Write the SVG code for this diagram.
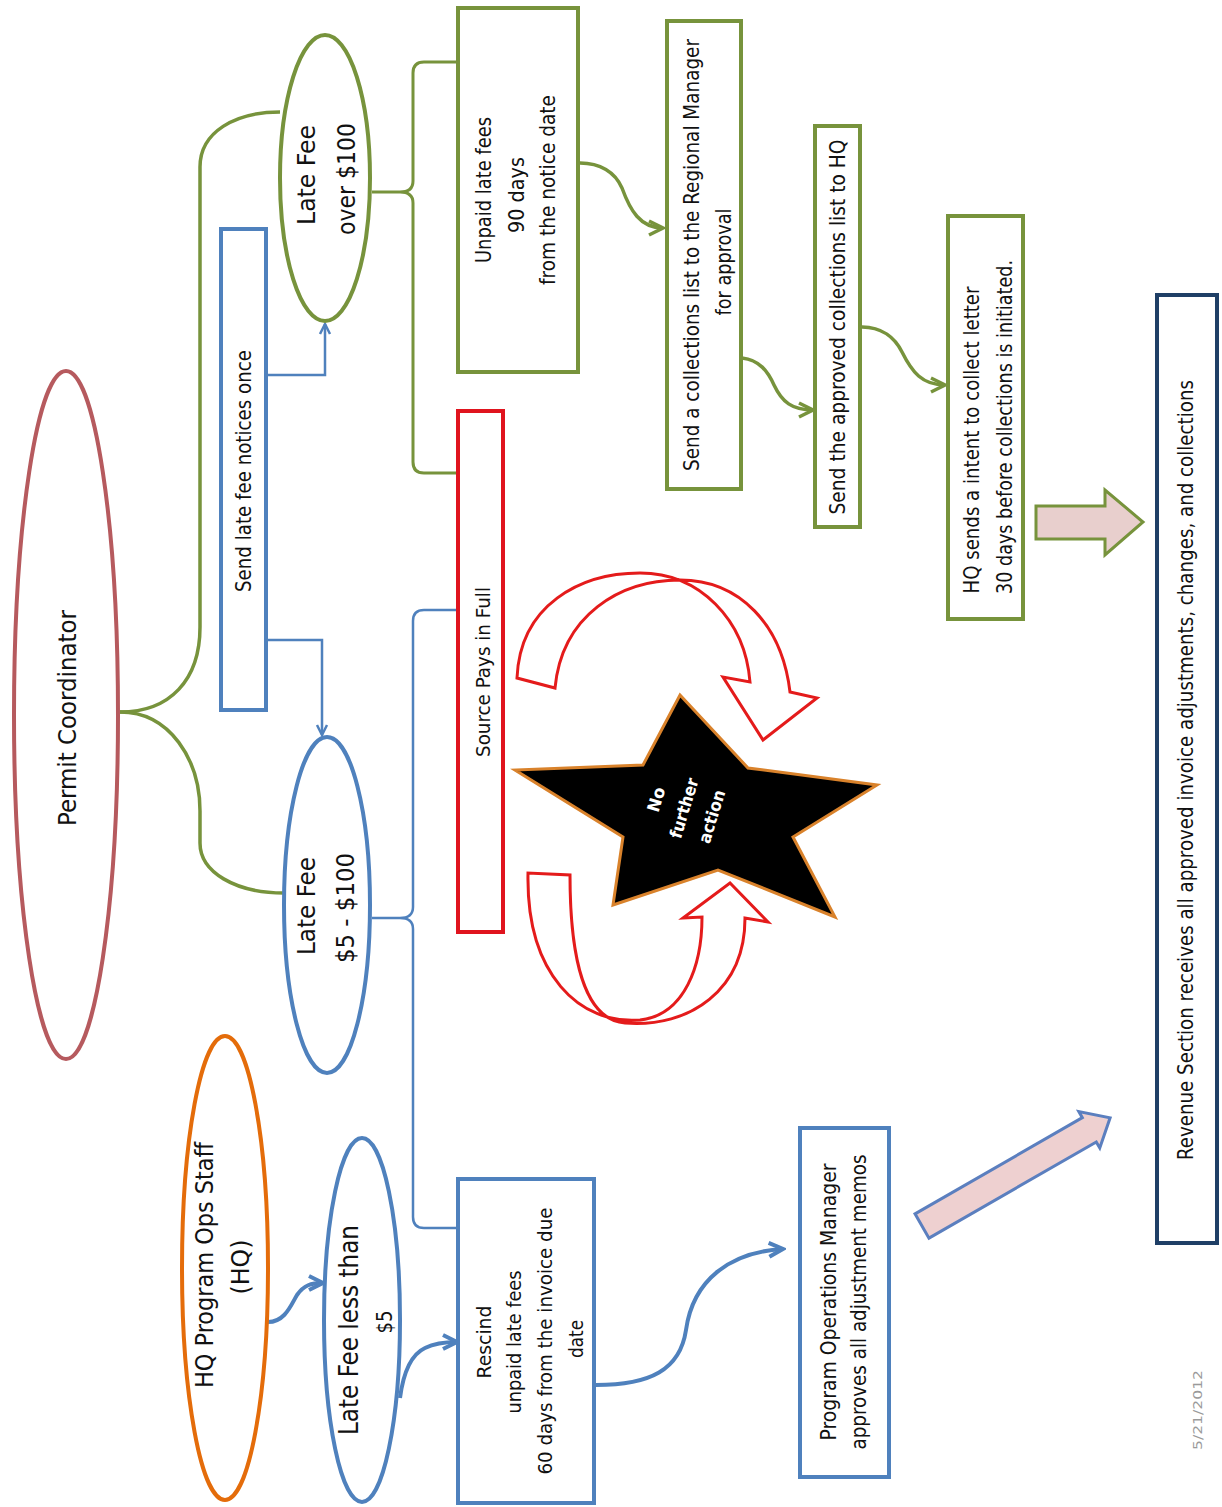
<svg xmlns="http://www.w3.org/2000/svg" width="1222" height="1507" viewBox="0 0 1222 1507">
<defs>
<style>
.t{font-family:"Liberation Sans Narrow","DejaVu Sans Condensed","Liberation Sans",sans-serif;fill:#111;text-anchor:middle;dominant-baseline:central;}
.nf{fill:#fff;stroke-width:4;}
.g{stroke:#77933c;}
.b{stroke:#4f81bd;}
.conG{fill:none;stroke:#77933c;stroke-width:3.5;}
.conB{fill:none;stroke:#4f81bd;stroke-width:2.5;}
.conBt{fill:none;stroke:#4f81bd;stroke-width:4;}
.red{fill:#fff;stroke:#e41b1b;stroke-width:3;stroke-linejoin:miter;}
</style>
<marker id="ag" markerUnits="userSpaceOnUse" markerWidth="18" markerHeight="18" viewBox="0 0 18 18" refX="16" refY="9" orient="auto"><path d="M2,2 L16,9 L2,16" fill="none" stroke="#77933c" stroke-width="3.5"/></marker>
<marker id="ab" markerUnits="userSpaceOnUse" markerWidth="14" markerHeight="14" viewBox="0 0 14 14" refX="12" refY="7" orient="auto"><path d="M2,2 L12,7 L2,12" fill="none" stroke="#4f81bd" stroke-width="2.5"/></marker>
<marker id="abt" markerUnits="userSpaceOnUse" markerWidth="20" markerHeight="20" viewBox="0 0 20 20" refX="17" refY="10" orient="auto"><path d="M3,3 L17,10 L3,17" fill="none" stroke="#4f81bd" stroke-width="4"/></marker>
</defs>
<rect width="1222" height="1507" fill="#fff"/>

<g id="connectors">
<path class="conG" d="M120,712 C170,712 200,680 200,627 L200,167 C200,132 235,112 280,112"/>
<path class="conG" d="M120,712 C170,712 200,760 200,811 L200,843 C200,872 235,893 284,893"/>
<path class="conB" d="M266,375 L325,375 L325,324" marker-end="url(#ab)"/>
<path class="conB" d="M266,640 L322,640 L322,735" marker-end="url(#ab)"/>
<path fill="none" stroke="#77933c" stroke-width="3" d="M458,62 L424,62 Q413,62 413,73 L413,181 Q413,192 400,192 L372,192 M400,192 Q413,192 413,203 L413,462 Q413,473 424,473 L458,473"/>
<path fill="none" stroke="#4f81bd" stroke-width="2.5" d="M457,610 L424,610 Q413,610 413,621 L413,907 Q413,918 400,918 L372,918 M400,918 Q413,918 413,929 L413,1217 Q413,1228 424,1228 L457,1228"/>
<path class="conBt" d="M268,1322 C285,1322 291,1305 297,1295 C304,1285 311,1283 323,1283" marker-end="url(#abt)"/>
<path class="conBt" d="M400,1398 C403,1375 410,1355 425,1348 C435,1343 445,1342 457,1342" marker-end="url(#abt)"/>
<path class="conG" d="M580,163 C600,163 615,172 622,188 C630,210 640,228 663,228" marker-end="url(#ag)"/>
<path class="conG" d="M742,358 C760,360 768,372 774,385 C782,402 792,410 813,410" marker-end="url(#ag)"/>
<path class="conG" d="M862,327 C882,327 895,338 902,352 C912,372 922,385 945,385" marker-end="url(#ag)"/>
<path class="conBt" d="M596,1385 C650,1385 680,1370 686,1330 C693,1280 730,1252 783,1249" marker-end="url(#abt)"/>
<polygon points="1036,506 1105,506 1105,490 1143,522 1105,555 1105,539 1036,539" fill="#e8cfcd" stroke="#77933c" stroke-width="3"/>
<polygon transform="translate(922,1226) rotate(-29.9)" points="0,-14 193,-14 193,-21 217,0 193,21 193,14 0,14" fill="#eed0d0" stroke="#5b7fbf" stroke-width="3"/>
<path class="red" d="M517,678 C520,605 580,573 640,573 C700,573 745,620 750,682 L723,677 L763,740 L817,698 L790,692 C782,625 740,580 680,580 C620,580 562,615 555,688 Z"/>
<path class="red" d="M528,873 C526,975 580,1025 640,1020 C685,1015 702,965 702,917 L683,918 L730,883 L768,922 L745,918 C745,990 690,1028 625,1023 C585,1020 570,960 570,875 Z"/>
</g>

<g id="permit-coordinator">
<ellipse cx="66" cy="715" rx="52" ry="344" fill="#fff" stroke="#b65a5e" stroke-width="4"/>
<text class="t" font-size="24" transform="translate(68,718) rotate(-90)" textLength="216" lengthAdjust="spacingAndGlyphs">Permit Coordinator</text>
</g>

<g id="send-notices">
<rect class="nf b" x="221" y="229" width="45" height="481"/>
<text class="t" font-size="21" transform="translate(244,471) rotate(-90)" textLength="242" lengthAdjust="spacingAndGlyphs">Send late fee notices once</text>
</g>

<g id="late-fee-over-100">
<ellipse class="nf g" cx="325" cy="178" rx="45" ry="143"/>
<text class="t" font-size="25" transform="translate(306,175) rotate(-90)" textLength="100" lengthAdjust="spacingAndGlyphs">Late Fee</text>
<text class="t" font-size="25" transform="translate(346,179) rotate(-90)" textLength="112" lengthAdjust="spacingAndGlyphs">over $100</text>
</g>

<g id="late-fee-5-100">
<ellipse class="nf b" cx="327" cy="905" rx="43" ry="168"/>
<text class="t" font-size="25" transform="translate(306,906) rotate(-90)" textLength="98" lengthAdjust="spacingAndGlyphs">Late Fee</text>
<text class="t" font-size="25" transform="translate(345,908) rotate(-90)" textLength="110" lengthAdjust="spacingAndGlyphs">$5 - $100</text>
</g>

<g id="hq-staff">
<ellipse fill="#fff" stroke="#e46c0a" stroke-width="4" cx="225" cy="1268" rx="43" ry="232"/>
<text class="t" font-size="25" transform="translate(204,1265) rotate(-90)" textLength="246" lengthAdjust="spacingAndGlyphs">HQ Program Ops  Staff</text>
<text class="t" font-size="25" transform="translate(240,1267) rotate(-90)" textLength="55" lengthAdjust="spacingAndGlyphs">(HQ)</text>
</g>

<g id="late-fee-less-5">
<ellipse class="nf b" cx="362" cy="1320" rx="38" ry="182"/>
<text class="t" font-size="27" transform="translate(348,1330) rotate(-90)" textLength="210" lengthAdjust="spacingAndGlyphs">Late Fee less than</text>
<text class="t" font-size="22" transform="translate(384,1322) rotate(-90)" textLength="23" lengthAdjust="spacingAndGlyphs">$5</text>
</g>

<g id="unpaid">
<rect class="nf g" x="458" y="8" width="120" height="364"/>
<text class="t" font-size="21" transform="translate(484,190) rotate(-90)" textLength="146" lengthAdjust="spacingAndGlyphs">Unpaid late fees</text>
<text class="t" font-size="21" transform="translate(517,195) rotate(-90)" textLength="76" lengthAdjust="spacingAndGlyphs">90 days</text>
<text class="t" font-size="21" transform="translate(548,190) rotate(-90)" textLength="190" lengthAdjust="spacingAndGlyphs">from the notice date</text>
</g>

<g id="source-pays">
<rect class="nf" stroke="#e0141e" x="458" y="411" width="45" height="521"/>
<text class="t" font-size="19" transform="translate(483,672) rotate(-90)" textLength="170" lengthAdjust="spacingAndGlyphs">Source Pays in Full</text>
</g>

<g id="send-collections-list">
<rect class="nf g" x="667" y="21" width="74" height="468"/>
<text class="t" font-size="21" transform="translate(692,255) rotate(-90)" textLength="432" lengthAdjust="spacingAndGlyphs">Send a collections  list to the Regional Manager</text>
<text class="t" font-size="21" transform="translate(724,262) rotate(-90)" textLength="107" lengthAdjust="spacingAndGlyphs">for approval</text>
</g>

<g id="send-approved">
<rect class="nf g" x="815" y="126" width="45" height="401"/>
<text class="t" font-size="21" transform="translate(838,327) rotate(-90)" textLength="375" lengthAdjust="spacingAndGlyphs">Send the approved  collections  list to HQ</text>
</g>

<g id="hq-sends">
<rect class="nf g" x="948" y="216" width="75" height="403"/>
<text class="t" font-size="21" transform="translate(972,440) rotate(-90)" textLength="307" lengthAdjust="spacingAndGlyphs">HQ sends a intent to collect  letter</text>
<text class="t" font-size="21" transform="translate(1005,427) rotate(-90)" textLength="334" lengthAdjust="spacingAndGlyphs">30 days before collections is initiated.</text>
</g>

<g id="rescind">
<rect class="nf b" x="458" y="1179" width="136" height="324"/>
<text class="t" font-size="20" transform="translate(484,1342) rotate(-90)" textLength="73" lengthAdjust="spacingAndGlyphs">Rescind</text>
<text class="t" font-size="20" transform="translate(514,1342) rotate(-90)" textLength="143" lengthAdjust="spacingAndGlyphs">unpaid late fees</text>
<text class="t" font-size="20" transform="translate(545,1341) rotate(-90)" textLength="267" lengthAdjust="spacingAndGlyphs">60 days from the invoice due</text>
<text class="t" font-size="20" transform="translate(576,1339) rotate(-90)" textLength="38" lengthAdjust="spacingAndGlyphs">date</text>
</g>

<g id="program-ops-manager">
<rect class="nf b" x="800" y="1128" width="89" height="349"/>
<text class="t" font-size="21" transform="translate(829,1302) rotate(-90)" textLength="277" lengthAdjust="spacingAndGlyphs">Program Operations Manager</text>
<text class="t" font-size="21" transform="translate(859,1302) rotate(-90)" textLength="295" lengthAdjust="spacingAndGlyphs">approves all adjustment memos</text>
</g>

<g id="revenue">
<rect class="nf" stroke="#1f3f66" x="1157" y="295" width="60" height="948"/>
<text class="t" font-size="21" transform="translate(1186,770) rotate(-90)" textLength="780" lengthAdjust="spacingAndGlyphs">Revenue Section receives all approved invoice adjustments, changes, and collections</text>
</g>

<g id="no-further-action">
<polygon points="680,695 748,768 877,785 793,837 835,917 718,870 613,905 623,837 515,770 643,765" fill="#000" stroke="#d9822b" stroke-width="3" stroke-linejoin="miter"/>
<g transform="translate(684,808) rotate(-73)">
<text class="t" font-size="17" font-weight="bold" y="-29" style="fill:#fff" textLength="25" lengthAdjust="spacingAndGlyphs">No</text>
<text class="t" font-size="17" font-weight="bold" y="0" style="fill:#fff" textLength="62" lengthAdjust="spacingAndGlyphs">further</text>
<text class="t" font-size="17" font-weight="bold" y="29" style="fill:#fff" textLength="55" lengthAdjust="spacingAndGlyphs">action</text>
</g>
</g>

<text class="t" font-size="13" style="fill:#9a9a9a" transform="translate(1197,1410) rotate(-90)" textLength="80" lengthAdjust="spacingAndGlyphs">5/21/2012</text>
</svg>
